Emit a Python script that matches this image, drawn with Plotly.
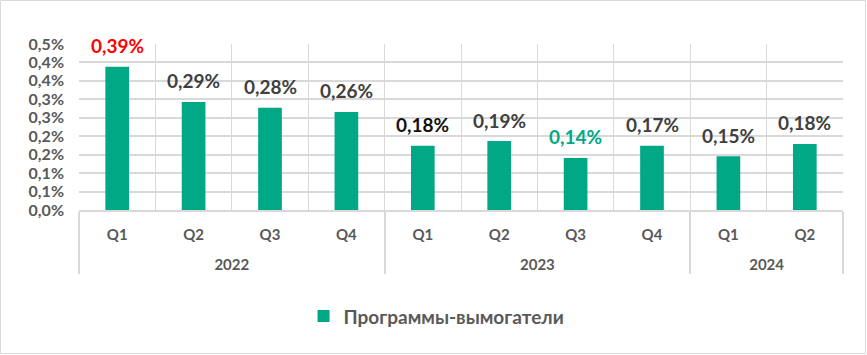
import plotly.graph_objects as go

years = ["2022", "2022", "2022", "2022", "2023", "2023", "2023", "2023", "2024", "2024"]
quarters = ["Q1", "Q2", "Q3", "Q4", "Q1", "Q2", "Q3", "Q4", "Q1", "Q2"]
values = [0.388, 0.293, 0.277, 0.266, 0.174, 0.187, 0.141, 0.174, 0.146, 0.179]
labels = ["0,39%", "0,29%", "0,28%", "0,26%", "0,18%", "0,19%", "0,14%", "0,17%", "0,15%", "0,18%"]
label_colors = ["#FF0000", "#404040", "#404040", "#404040", "#111111",
                "#404040", "#00A886", "#404040", "#404040", "#404040"]
series_name = "Программы-вымогатели"
tick_vals = [0, 0.05, 0.10, 0.15, 0.20, 0.25, 0.30, 0.35, 0.40, 0.45]
tick_text = ["0,0%", "0,1%", "0,1%", "0,2%", "0,2%", "0,3%", "0,3%", "0,4%", "0,4%", "0,5%"]

BAR = "#00A886"
GRID = "#D9D9D9"
FONT = "Lato"

W, H = 867, 355
L, R, T, B = 79, 24, 44, 145

# year labels sit one line lower than plotly's default second level
year_lbl = ["<br>" + y for y in years]

fig = go.Figure()
fig.add_trace(go.Bar(
    x=[year_lbl, quarters], y=values, name=series_name,
    marker=dict(color=BAR, line=dict(width=0)),
    hoverinfo="skip",
))

for i, (v, t, c) in enumerate(zip(values, labels, label_colors)):
    fig.add_annotation(x=i, y=v, text=t, showarrow=False, yshift=21,
                       font=dict(family=FONT, size=19, color=c, weight="bold"))

pw = W - L - R
ph = H - T - B
fig.add_shape(type="rect", xref="paper", yref="paper",
              x0=(-L + 0.5) / pw, x1=1 + (R - 1.5) / pw,
              y0=-(B - 1.5) / ph, y1=1 + (T - 0.5) / ph,
              line=dict(color=GRID, width=1), layer="below")

fig.update_layout(
    width=W, height=H,
    margin=dict(l=L, r=R, t=T, b=B, autoexpand=False),
    paper_bgcolor="white", plot_bgcolor="white",
    bargap=0.69,
    showlegend=True,
    legend=dict(orientation="h", x=0.468, xanchor="center", y=-0.64, yanchor="middle",
                font=dict(family=FONT, size=19, color="#595959", weight="bold")),
    font=dict(family=FONT),
)
fig.update_xaxes(
    type="multicategory", automargin=False,
    showgrid=True, gridcolor=GRID, gridwidth=1,
    tickson="boundaries", ticks="",
    ticklabelstandoff=10,
    showline=True, linecolor=GRID, linewidth=2,
    showdividers=True, dividercolor=GRID, dividerwidth=2,
    tickfont=dict(family=FONT, size=15, color="#595959", weight="bold"),
)
fig.update_yaxes(
    range=[0, 0.45], automargin=False,
    tickvals=tick_vals, ticktext=tick_text,
    showgrid=True, gridcolor=GRID, gridwidth=1.5,
    zeroline=False, showline=False,
    tickfont=dict(family=FONT, size=16, color="#595959", weight="bold"),
    ticklabelstandoff=14,
)

fig.write_html("out.html", config={"displayModeBar": False},
               post_script="document.body.style.margin='0';")
